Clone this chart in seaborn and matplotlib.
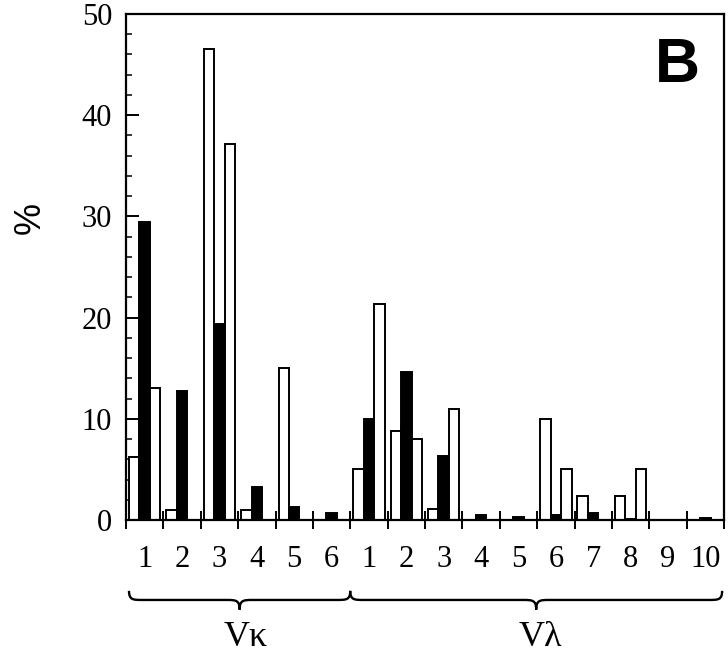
import numpy as np
import pandas as pd
import matplotlib.pyplot as plt
import matplotlib.transforms as mtransforms
from matplotlib.path import Path
from matplotlib.patches import PathPatch
import seaborn as sns

# V-gene families
kappa_labels = ['1', '2', '3', '4', '5', '6']
lambda_labels = ['1', '2', '3', '4', '5', '6', '7', '8', '9', '10']

# % per family: open bar (left), filled bar (middle), open bar (right)
kappa_open_left = [6.2, 1.0, 46.5, 1.0, 15.0, 0.0]
kappa_filled = [29.4, 12.7, 19.4, 3.3, 1.3, 0.7]
kappa_open_right = [13.0, 0.0, 37.2, 0.0, 0.0, 0.0]

lambda_open_left = [5.0, 8.8, 1.1, 0.0, 0.0, 10.0, 2.4, 2.4, 0.0, 0.0]
lambda_filled = [10.0, 14.6, 6.3, 0.5, 0.3, 0.5, 0.7, 0.1, 0.0, 0.2]
lambda_open_right = [21.3, 8.0, 11.0, 0.0, 0.0, 5.0, 0.0, 5.0, 0.0, 0.0]

groups = ['κ' + l for l in kappa_labels] + ['λ' + l for l in lambda_labels]
tick_labels = kappa_labels + lambda_labels
series = ['open_left', 'filled', 'open_right']

df = pd.DataFrame({
    'group': groups * 3,
    'series': [s for s in series for _ in groups],
    'value': (kappa_open_left + lambda_open_left
              + kappa_filled + lambda_filled
              + kappa_open_right + lambda_open_right),
})

sns.set_theme(style='ticks', rc={'text.color': 'black', 'axes.labelcolor': 'black',
                                 'xtick.color': 'black', 'ytick.color': 'black',
                                 'axes.edgecolor': 'black'})
plt.rcParams['font.family'] = ['Liberation Serif', 'DejaVu Serif']

fig = plt.figure(figsize=(7.28, 6.61), dpi=100)
ax = fig.add_axes([0.1731, 0.2133, 0.8214, 0.7655])

sns.barplot(data=df, x='group', y='value', hue='series', order=groups,
            hue_order=series, palette=['white', 'black', 'white'],
            edgecolor='black', linewidth=1.4, width=0.84, gap=0,
            saturation=1, errorbar=None, legend=False, ax=ax)

ax.set_xlim(-0.5, len(groups) - 0.5)
ax.set_ylim(0, 50)
ax.set_xlabel('')
ax.set_ylabel('')

for sp in ax.spines.values():
    sp.set_linewidth(1.6)

# y axis
ax.set_yticks(np.arange(0, 51, 10))
ax.set_yticks(np.arange(0, 51, 2), minor=True)
ax.tick_params(axis='y', which='major', direction='in', length=9, width=1.4,
               labelsize=22, pad=10)
ax.tick_params(axis='y', which='minor', direction='in', length=4.5, width=1.1)

# x axis: labels at group centres, ticks on the boundaries
ax.set_xticks(range(len(groups)))
ax.set_xticklabels(tick_labels)
ax.set_xticks(np.arange(-0.5, len(groups), 1), minor=True)
ax.tick_params(axis='x', which='major', length=0, labelsize=22, pad=18)
ax.tick_params(axis='x', which='minor', direction='inout', length=12.5,
               width=1.4)

fig.text(30 / 728, 1 - 218 / 661, '%', rotation=90, ha='center', va='center',
         fontsize=26, family=['Liberation Sans', 'DejaVu Sans'])
fig.text(677 / 728, 1 - 66 / 661, 'B', ha='center', va='center',
         fontsize=45, fontweight='bold', family=['Liberation Sans', 'DejaVu Sans'])

# curly braces under the family labels
trans = mtransforms.blended_transform_factory(ax.transData, ax.transAxes)


def draw_brace(x0, x1, y_end=-0.140, y_mid=-0.158, y_tip=-0.177, r=0.36):
    xc = (x0 + x1) / 2
    verts = [
        (x0, y_end), (x0, y_mid), (x0 + r * 0.3, y_mid), (x0 + r, y_mid),
        (xc - r, y_mid),
        (xc - r * 0.3, y_mid), (xc, y_mid), (xc, y_tip),
        (xc, y_mid), (xc + r * 0.3, y_mid), (xc + r, y_mid),
        (x1 - r, y_mid),
        (x1 - r * 0.3, y_mid), (x1, y_mid), (x1, y_end),
    ]
    codes = [Path.MOVETO, Path.CURVE4, Path.CURVE4, Path.CURVE4,
             Path.LINETO,
             Path.CURVE4, Path.CURVE4, Path.CURVE4,
             Path.CURVE4, Path.CURVE4, Path.CURVE4,
             Path.LINETO,
             Path.CURVE4, Path.CURVE4, Path.CURVE4]
    patch = PathPatch(Path(verts, codes), transform=trans, fill=False,
                      edgecolor='black', lw=1.7, clip_on=False)
    ax.add_patch(patch)
    return xc


nk = len(kappa_labels)
xk = draw_brace(-0.42, nk - 0.5)
xl = draw_brace(nk - 0.5, len(groups) - 0.55)
ax.text(xk + 0.15, -0.232, 'Vκ', transform=trans, ha='center', va='center',
        fontsize=26)
ax.text(xl + 0.1, -0.232, 'Vλ', transform=trans, ha='center', va='center',
        fontsize=26)

fig.savefig('out.png', dpi=100)
